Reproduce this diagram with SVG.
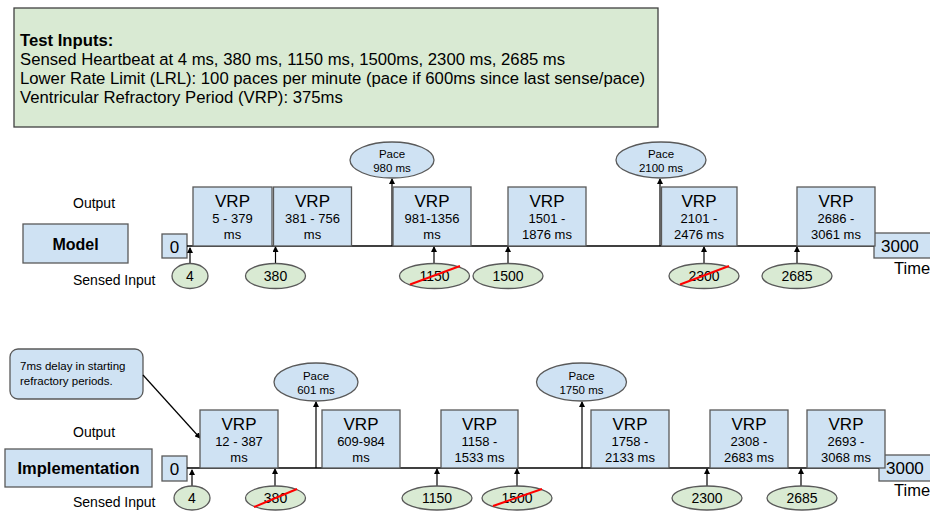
<svg xmlns="http://www.w3.org/2000/svg" width="930" height="512" viewBox="0 0 930 512">
<style>
text{font-family:"Liberation Sans",Arial,sans-serif;fill:#000}
.vrp{fill:#cfe2f3;stroke:#595959;stroke-width:1.3}
.sense{fill:#d9ead3;stroke:#595959;stroke-width:1.3}
.pace{fill:#cfe2f3;stroke:#595959;stroke-width:1.3}
.t17{font-size:17px;text-anchor:middle}
.t13{font-size:13px;text-anchor:middle}
.t14{font-size:14px;text-anchor:middle}
.t11{font-size:11.5px;text-anchor:middle}
.lbl{font-size:14px}
.top{font-size:16.7px}
.ln{stroke:#000;stroke-width:1.3;fill:none}
.arr{stroke:#000;stroke-width:1.2;fill:none;marker-end:url(#ah)}
.red{stroke:#ff0000;stroke-width:2}
</style>
<defs>
<marker id="ah" markerWidth="6" markerHeight="6" refX="5" refY="3" orient="auto" markerUnits="userSpaceOnUse">
<path d="M0,0 L6,3 L0,6 Z" fill="#000"/>
</marker>
</defs>
<rect width="930" height="512" fill="#fff"/>

<g id="test-inputs">
<rect x="14" y="8" width="644" height="119" fill="#d9ead3" stroke="#404040" stroke-width="1.3"/>
<text class="top" x="20" y="46" style="font-weight:bold">Test Inputs:</text>
<text class="top" x="20" y="65">Sensed Heartbeat at 4 ms, 380 ms, 1150 ms, 1500ms, 2300 ms, 2685 ms</text>
<text class="top" x="20" y="84">Lower Rate Limit (LRL): 100 paces per minute (pace if 600ms since last sense/pace)</text>
<text class="top" x="20" y="103">Ventricular Refractory Period (VRP): 375ms</text>
</g>

<!-- MODEL ROW -->
<g id="model-labels">
<text class="lbl" x="73" y="208">Output</text>
<text class="lbl" x="73" y="285">Sensed Input</text>
</g>
<g id="model">
<rect class="vrp" x="23" y="224" width="105" height="39"/>
<text x="75.5" y="250" style="font-size:16px;font-weight:bold;text-anchor:middle">Model</text>
</g>
<g id="model-zero">
<rect class="vrp" x="162" y="234" width="25" height="24"/>
<text class="t17" x="174.5" y="253">0</text>
</g>
<g id="model-3000">
<rect class="vrp" x="874" y="233" width="70" height="25"/>
<text x="881" y="252" style="font-size:17px">3000</text>
<text x="894" y="274" style="font-size:16.5px">Time</text>
</g>

<g id="model-connectors">
<line class="ln" x1="187" y1="246" x2="874" y2="246"/>
<line class="arr" x1="190" y1="264" x2="190" y2="248"/>
<line class="arr" x1="275.5" y1="264" x2="275.5" y2="247"/>
<line class="arr" x1="392" y1="246" x2="392" y2="179"/>
<line class="arr" x1="434" y1="263" x2="434" y2="247"/>
<line class="arr" x1="508" y1="263" x2="508" y2="247"/>
<line class="arr" x1="660" y1="246" x2="660" y2="179"/>
<line class="arr" x1="704" y1="263" x2="704" y2="247"/>
<line class="arr" x1="797" y1="263" x2="797" y2="247"/>
</g>

<g id="m-vrp1"><rect class="vrp" x="193" y="187" width="79" height="59"/>
<text class="t17" x="232.5" y="207">VRP</text><text class="t13" x="232.5" y="223">5 - 379</text><text class="t13" x="232.5" y="239">ms</text></g>
<g id="m-vrp2"><rect class="vrp" x="273.5" y="187" width="78" height="59"/>
<text class="t17" x="312.5" y="207">VRP</text><text class="t13" x="312.5" y="223">381 - 756</text><text class="t13" x="312.5" y="239">ms</text></g>
<g id="m-vrp3"><rect class="vrp" x="393" y="187" width="78" height="59"/>
<text class="t17" x="432" y="207">VRP</text><text class="t13" x="432" y="223">981-1356</text><text class="t13" x="432" y="239">ms</text></g>
<g id="m-vrp4"><rect class="vrp" x="508" y="187" width="78" height="59"/>
<text class="t17" x="547" y="207">VRP</text><text class="t13" x="547" y="223">1501 -</text><text class="t13" x="547" y="239">1876 ms</text></g>
<g id="m-vrp5"><rect class="vrp" x="661.5" y="187" width="75.5" height="59"/>
<text class="t17" x="699" y="207">VRP</text><text class="t13" x="699" y="223">2101 -</text><text class="t13" x="699" y="239">2476 ms</text></g>
<g id="m-vrp6"><rect class="vrp" x="797" y="187" width="78" height="59"/>
<text class="t17" x="836" y="207">VRP</text><text class="t13" x="836" y="223">2686 -</text><text class="t13" x="836" y="239">3061 ms</text></g>

<g id="m-pace980"><ellipse class="pace" cx="392" cy="160" rx="42" ry="18"/>
<text class="t11" x="392" y="158">Pace</text><text class="t11" x="392" y="172">980 ms</text></g>
<g id="m-pace2100"><ellipse class="pace" cx="661" cy="160" rx="45" ry="18"/>
<text class="t11" x="661" y="158">Pace</text><text class="t11" x="661" y="172">2100 ms</text></g>

<g id="m-s4"><ellipse class="sense" cx="190" cy="276" rx="18" ry="12.5"/><text class="t14" x="190" y="281">4</text></g>
<g id="m-s380"><ellipse class="sense" cx="275.5" cy="276" rx="30" ry="12.5"/><text class="t14" x="275.5" y="281">380</text></g>
<g id="m-s1150"><ellipse class="sense" cx="434.5" cy="276" rx="35" ry="12.5"/><text class="t14" x="434.5" y="281">1150</text>
<line class="red" x1="410" y1="284.5" x2="460" y2="266"/></g>
<g id="m-s1500"><ellipse class="sense" cx="508" cy="276" rx="35" ry="12.5"/><text class="t14" x="508" y="281">1500</text></g>
<g id="m-s2300"><ellipse class="sense" cx="704" cy="276" rx="35" ry="12.5"/><text class="t14" x="704" y="281">2300</text>
<line class="red" x1="680" y1="284.5" x2="729" y2="266"/></g>
<g id="m-s2685"><ellipse class="sense" cx="797" cy="276" rx="35" ry="12.5"/><text class="t14" x="797" y="281">2685</text></g>

<!-- IMPLEMENTATION ROW -->
<g id="callout">
<rect x="10" y="349" width="133" height="50" rx="8" fill="#cfe2f3" stroke="#595959" stroke-width="1.3"/>
<text x="20" y="370" style="font-size:11.5px">7ms delay in starting</text>
<text x="20" y="385" style="font-size:11.5px">refractory periods.</text>
</g>
<g id="impl-labels">
<text class="lbl" x="73" y="437">Output</text>
<text class="lbl" x="73" y="507">Sensed Input</text>
</g>
<g id="implementation">
<rect class="vrp" x="5" y="449" width="147" height="38"/>
<text x="78.5" y="474" style="font-size:16.5px;font-weight:bold;text-anchor:middle">Implementation</text>
</g>
<g id="impl-zero">
<rect class="vrp" x="162" y="456" width="25" height="25"/>
<text class="t17" x="174.5" y="475">0</text>
</g>
<g id="impl-3000">
<rect class="vrp" x="879" y="455" width="70" height="26"/>
<text x="886" y="474" style="font-size:17px">3000</text>
<text x="894" y="496" style="font-size:16.5px">Time</text>
</g>

<g id="impl-connectors">
<line class="ln" x1="187" y1="468" x2="879" y2="468"/>
<line class="arr" x1="143" y1="375" x2="200" y2="438"/>
<line class="arr" x1="192" y1="486" x2="192" y2="470"/>
<line class="arr" x1="275" y1="486" x2="275" y2="469"/>
<line class="arr" x1="316" y1="468" x2="316" y2="402"/>
<line class="arr" x1="437" y1="486" x2="437" y2="469"/>
<line class="arr" x1="517" y1="486" x2="517" y2="469"/>
<line class="arr" x1="582" y1="468" x2="582" y2="402"/>
<line class="arr" x1="707" y1="486" x2="707" y2="469"/>
<line class="arr" x1="801" y1="486" x2="801" y2="469"/>
</g>

<g id="i-vrp1"><rect class="vrp" x="200" y="410" width="78" height="58"/>
<text class="t17" x="239" y="430">VRP</text><text class="t13" x="239" y="446">12 - 387</text><text class="t13" x="239" y="462">ms</text></g>
<g id="i-vrp2"><rect class="vrp" x="322" y="410" width="78" height="58"/>
<text class="t17" x="361" y="430">VRP</text><text class="t13" x="361" y="446">609-984</text><text class="t13" x="361" y="462">ms</text></g>
<g id="i-vrp3"><rect class="vrp" x="441" y="410" width="77" height="58"/>
<text class="t17" x="479.5" y="430">VRP</text><text class="t13" x="479.5" y="446">1158 -</text><text class="t13" x="479.5" y="462">1533 ms</text></g>
<g id="i-vrp4"><rect class="vrp" x="591" y="410" width="78" height="58"/>
<text class="t17" x="630" y="430">VRP</text><text class="t13" x="630" y="446">1758 -</text><text class="t13" x="630" y="462">2133 ms</text></g>
<g id="i-vrp5"><rect class="vrp" x="710" y="410" width="78" height="58"/>
<text class="t17" x="749" y="430">VRP</text><text class="t13" x="749" y="446">2308 -</text><text class="t13" x="749" y="462">2683 ms</text></g>
<g id="i-vrp6"><rect class="vrp" x="807" y="410" width="78" height="58"/>
<text class="t17" x="846" y="430">VRP</text><text class="t13" x="846" y="446">2693 -</text><text class="t13" x="846" y="462">3068 ms</text></g>

<g id="i-pace601"><ellipse class="pace" cx="316" cy="382" rx="42" ry="19"/>
<text class="t11" x="316" y="380">Pace</text><text class="t11" x="316" y="394">601 ms</text></g>
<g id="i-pace1750"><ellipse class="pace" cx="581.5" cy="382" rx="45" ry="19"/>
<text class="t11" x="581.5" y="380">Pace</text><text class="t11" x="581.5" y="394">1750 ms</text></g>

<g id="i-s4"><ellipse class="sense" cx="192" cy="498" rx="18" ry="12"/><text class="t14" x="192" y="503">4</text></g>
<g id="i-s380"><ellipse class="sense" cx="275.5" cy="498" rx="30" ry="12"/><text class="t14" x="275.5" y="503">380</text>
<line class="red" x1="254" y1="507" x2="297" y2="489"/></g>
<g id="i-s1150"><ellipse class="sense" cx="437" cy="498" rx="35" ry="12"/><text class="t14" x="437" y="503">1150</text></g>
<g id="i-s1500"><ellipse class="sense" cx="517" cy="498" rx="35" ry="12"/><text class="t14" x="517" y="503">1500</text>
<line class="red" x1="493" y1="506" x2="542" y2="489"/></g>
<g id="i-s2300"><ellipse class="sense" cx="707" cy="498" rx="35" ry="12"/><text class="t14" x="707" y="503">2300</text></g>
<g id="i-s2685"><ellipse class="sense" cx="802" cy="498" rx="35" ry="12"/><text class="t14" x="802" y="503">2685</text></g>
</svg>
